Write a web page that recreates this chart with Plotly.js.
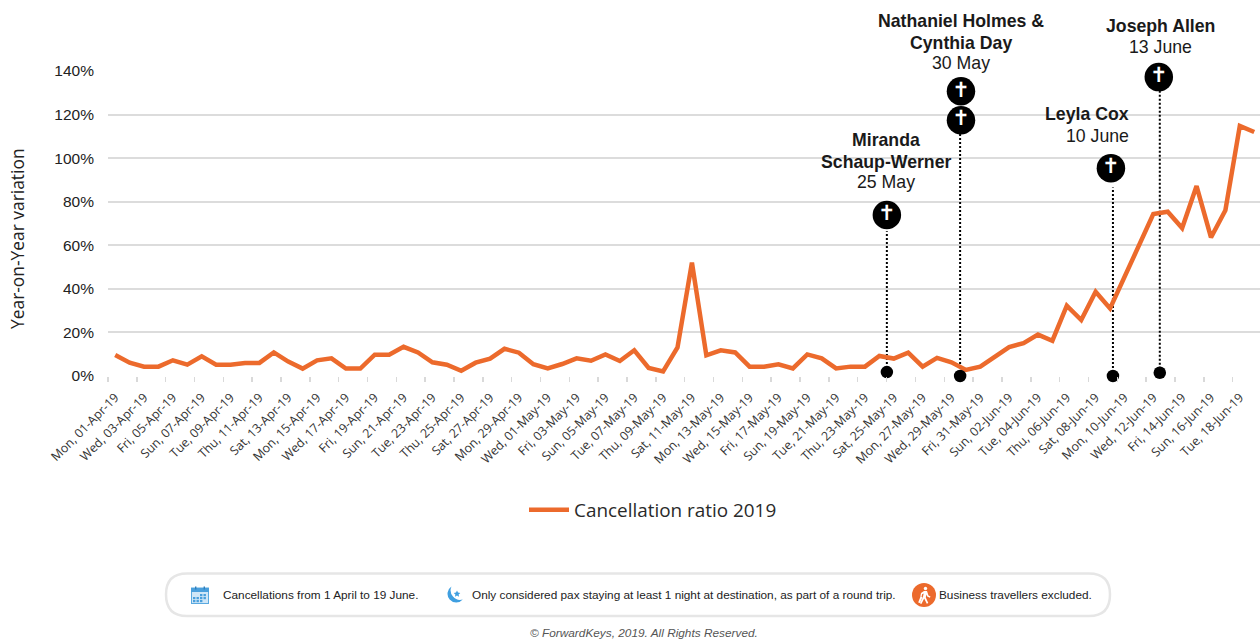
<!DOCTYPE html>
<html><head><meta charset="utf-8">
<script src="https://cdn.plot.ly/plotly-3.0.1.min.js"></script>
<style>html,body{margin:0;padding:0;background:#fff}#c{width:1260px;height:639px}</style>
</head><body><div id="c"></div>
<script>
const W=1260,H=639;
const dayNames=["Mon","Tue","Wed","Thu","Fri","Sat","Sun"];
const monthNames=["Apr","May","Jun"];
const monthLengths=[30,31,19];
const ratio=[9.6,6.1,4.3,4.3,7.2,5.2,9.0,5.2,5.2,6.0,6.0,10.8,6.6,3.4,7.2,8.1,3.4,3.4,9.8,9.8,13.4,10.8,6.3,5.2,2.4,6.1,8.0,
12.5,10.7,5.4,3.5,5.5,8.1,7.0,9.9,6.9,11.8,3.7,2.1,13.1,52.0,9.5,11.8,10.8,4.3,4.3,5.4,3.5,9.9,8.1,3.5,4.3,4.3,9.2,8.0,10.7,4.3,8.3,6.3,2.8,4.3,
9.0,13.3,15.1,19.0,16.2,32.3,25.7,38.7,31.0,45.6,60.5,74.3,75.4,67.9,87.2,63.6,76.1,114.8,112.0];
const categories=[];
{let d=0;monthLengths.forEach((n,m)=>{for(let i=1;i<=n;i++){categories.push(dayNames[d%7]+", "+String(i).padStart(2,"0")+"-"+monthNames[m]+"-19");d++;}});}
const idx=categories.map((_,i)=>i);
const tickIdx=idx.filter(i=>i%2===0);
const tickLabels=tickIdx.map(i=>categories[i]);
const seriesName="Cancellation ratio 2019";
const yTicks=[0,20,40,60,80,100,120,140];
const yTickLabels=yTicks.map(v=>v+"%");
// events: x position (category index), top of leader, foot value
const eventX=[53.52,58.6,69.2,72.45];
const eventTop=[66.5,112,86.5,131];
const eventFoot=[1.8,0,0,1.5];
const badgeX=[53.52,58.66,58.66,69.06,72.38];
const badgeY=[73.9,130.7,117.4,95.4,137.2];

const L=108,R=1260,T=71,B=376;
const px=x=>x/W, py=y=>1-y/H;
function svg(s){return "data:image/svg+xml;utf8,"+encodeURIComponent(s);}
const calendar=svg(`<svg xmlns="http://www.w3.org/2000/svg" viewBox="0 0 18 18"><rect x="0.5" y="2" width="17" height="15.5" fill="#cfe6f7" stroke="#5aa9e0"/><rect x="0" y="2" width="18" height="4" fill="#4a9fdc"/><rect x="4" y="0.5" width="1.4" height="3" fill="#2f7fbd"/><rect x="12.6" y="0.5" width="1.4" height="3" fill="#2f7fbd"/><g fill="#4a9fdc"><rect x="9" y="8" width="2.4" height="2.2"/><rect x="12.5" y="8" width="2.4" height="2.2"/><rect x="2" y="11" width="2.4" height="2.2"/><rect x="5.5" y="11" width="2.4" height="2.2"/><rect x="9" y="11" width="2.4" height="2.2"/><rect x="12.5" y="11" width="2.4" height="2.2"/><rect x="2" y="14" width="2.4" height="2.2"/><rect x="5.5" y="14" width="2.4" height="2.2"/><rect x="9" y="14" width="2.4" height="2.2"/></g></svg>`);
const moon=svg(`<svg xmlns="http://www.w3.org/2000/svg" viewBox="0 0 18 18"><path d="M6.500 0.500A8.700 8.700 0 1 0 17.800 13.500A9.500 9.500 0 0 1 6.500 0.500Z" fill="#3f9fe0"/><path d="M12 4.500l1 2.100 2.300.3-1.700 1.500.5 2.300-2.100-1.200-2.100 1.200.5-2.300-1.700-1.500 2.300-.3Z" fill="#3f9fe0"/></svg>`);
const walker=svg(`<svg xmlns="http://www.w3.org/2000/svg" viewBox="0 0 24 24"><circle cx="12" cy="12" r="12" fill="#ec6a2c"/><circle cx="13.500" cy="5.500" r="1.700" fill="#fff"/><path d="M12 8l3 0 1.500 4.500 2 1-.6 1.200-2.700-1.300-.8-1.800-.6 3 2.500 5.500-1.500.6-2.600-5.200-2.800 5.400-1.500-.7 3-6.200.8-3.500-1.600.8-.5 2.500-1.300-.2.700-3.500Z" fill="#fff"/><path d="M8.500 13.500l2 .5-2.500 6-1.800-.6Z" fill="#fff"/></svg>`);

const traces=[];
eventX.forEach((x,i)=>traces.push({x:[x,x],y:[eventFoot[i],eventTop[i]],mode:"lines",line:{color:"#000",width:2,dash:"2px,2px"},showlegend:false,hoverinfo:"skip",cliponaxis:false}));
traces.push({x:idx,y:ratio,mode:"lines",name:seriesName,line:{color:"#ec6a2c",width:4.5,shape:"linear"},cliponaxis:false,hoverinfo:"x+y"});
traces.push({x:eventX,y:eventFoot,mode:"markers",marker:{color:"#000",size:12.5,symbol:"circle"},showlegend:false,hoverinfo:"skip",cliponaxis:false});
traces.push({x:badgeX,y:badgeY,mode:"markers+text",text:badgeX.map(()=>"✝"),textposition:"middle center",textfont:{color:"#fff",size:21,family:"DejaVu Sans"},marker:{color:"#000",size:28.5,symbol:"circle"},showlegend:false,hoverinfo:"skip",cliponaxis:false});
// second x axis only carries the labels
traces.push({x:tickIdx,y:tickIdx.map(()=>null),xaxis:"x2",mode:"lines",showlegend:false,hoverinfo:"skip",cliponaxis:false});

const xr=[-0.5,79.4];
const ann=(x,y,text,opts)=>Object.assign({xref:"paper",yref:"paper",x:px(x),y:py(y),text,showarrow:false,xanchor:"center",yanchor:"middle",font:{family:"Liberation Sans",size:17.7,color:"#1a1a1a"}},opts||{});
const bold=t=>"<b>"+t+"</b>";
const small={family:"Liberation Sans",size:11.8,color:"#222"};
const layout={
 width:W,height:H,margin:{l:0,r:0,t:0,b:0},paper_bgcolor:"#fff",plot_bgcolor:"rgba(0,0,0,0)",autosize:false,
 xaxis:{domain:[px(L),px(R)],range:xr,tickmode:"array",tickvals:tickIdx.map(i=>i-0.5),ticktext:tickIdx.map(()=>""),ticks:"outside",ticklen:5,tickwidth:1.5,tickcolor:"#d9d9d9",showgrid:false,zeroline:false,showline:false,anchor:"y"},
 xaxis2:{domain:[px(L),px(R)],range:xr,overlaying:"x",anchor:"y",side:"bottom",tickmode:"array",tickvals:tickIdx,ticktext:tickLabels,tickangle:-45,ticks:"",ticklen:0,ticklabelstandoff:11,showgrid:false,zeroline:false,showline:false,tickfont:{family:"Open Sans",size:12.4,color:"#333"}},
 yaxis:{domain:[py(B),py(T)],range:[0,140],tickmode:"array",tickvals:yTicks,ticktext:yTickLabels,showgrid:true,gridcolor:"#dcdcdc",gridwidth:2,zeroline:false,showline:false,ticks:"",ticklabelstandoff:13,tickfont:{family:"Liberation Sans",size:15.5,color:"#222"}},
 legend:{orientation:"h",x:px(524),y:py(510),xanchor:"left",yanchor:"middle",font:{family:"Open Sans",size:18.9,color:"#2a2a2a"},bgcolor:"rgba(0,0,0,0)",itemwidth:40},
 shapes:[{type:"path",xref:"paper",yref:"paper",layer:"below",
   path:(()=>{const x0=166,x1=1110,y0=573.5,y1=616,r=21;const X=px,Y=py;return `M${X(x0+r)},${Y(y0)}L${X(x1-r)},${Y(y0)}Q${X(x1)},${Y(y0)} ${X(x1)},${Y(y0+r)}Q${X(x1)},${Y(y1)} ${X(x1-r)},${Y(y1)}L${X(x0+r)},${Y(y1)}Q${X(x0)},${Y(y1)} ${X(x0)},${Y(y0+r)}Q${X(x0)},${Y(y0)} ${X(x0+r)},${Y(y0)}Z`;})(),
   line:{color:"#e6e6e6",width:2.5},fillcolor:"#fff"}],
 images:[
  {source:calendar,xref:"paper",yref:"paper",x:px(191),y:py(586),sizex:18/W,sizey:18/H,sizing:"stretch",xanchor:"left",yanchor:"top",layer:"above"},
  {source:moon,xref:"paper",yref:"paper",x:px(445),y:py(586),sizex:18/W,sizey:18/H,sizing:"stretch",xanchor:"left",yanchor:"top",layer:"above"},
  {source:walker,xref:"paper",yref:"paper",x:px(912),y:py(583),sizex:24/W,sizey:24/H,sizing:"stretch",xanchor:"left",yanchor:"top",layer:"above"}],
 annotations:[
  ann(17,239,"Year-on-Year variation",{textangle:-90,font:{family:"Open Sans",size:17.4,color:"#222"}}),
  ann(961,21,bold("Nathaniel Holmes &")),
  ann(961,43,bold("Cynthia Day")),
  ann(961,63,"30 May"),
  ann(1160,26,bold("Joseph Allen")),
  ann(1160,47,"13 June"),
  ann(1131,114,bold("Leyla Cox"),{xanchor:"right"}),
  ann(1131,136,"10 June",{xanchor:"right"}),
  ann(886,140,bold("Miranda")),
  ann(886,162,bold("Schaup-Werner")),
  ann(886,182,"25 May"),
  ann(220.500,595,"Cancellations from 1 April to 19 June.",{xanchor:"left",font:small}),
  ann(469.500,595,"Only considered pax staying at least 1 night at destination, as part of a round trip.",{xanchor:"left",font:small}),
  ann(937,595,"Business travellers excluded.",{xanchor:"left",font:small}),
  ann(643.5,633,"<i>© ForwardKeys, 2019. All Rights Reserved.</i>",{font:{family:"Liberation Sans",size:11.83,color:"#555"}})
 ]
};
Plotly.newPlot("c",traces,layout,{displayModeBar:false,staticPlot:true});
</script></body></html>
